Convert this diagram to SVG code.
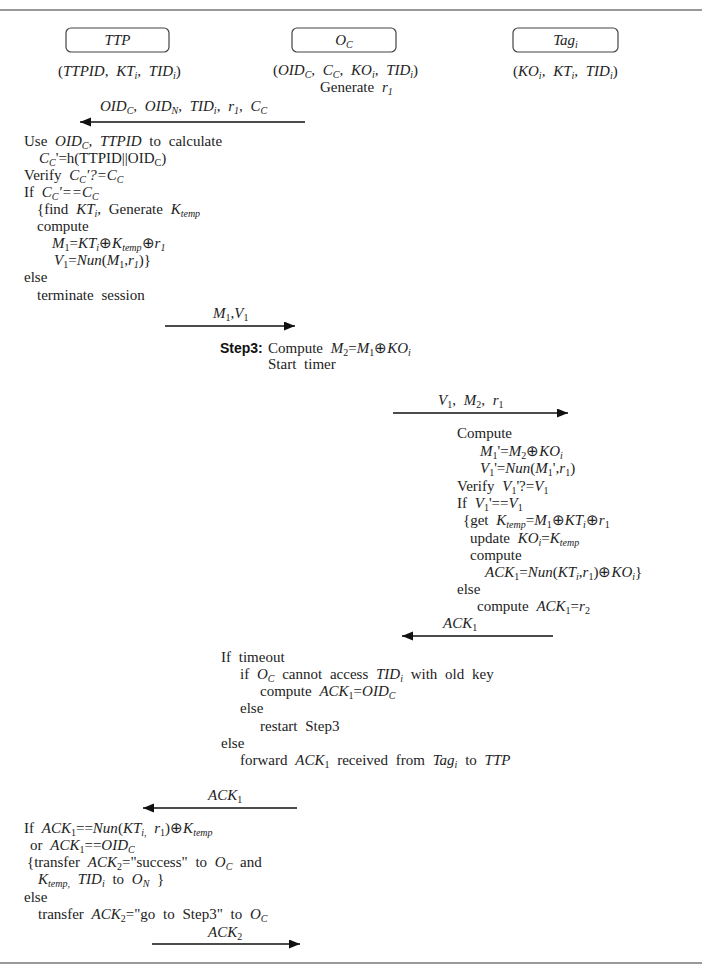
<svg xmlns="http://www.w3.org/2000/svg" width="702" height="971" viewBox="0 0 702 971">
<defs>
<marker id="ah" markerUnits="userSpaceOnUse" markerWidth="12" markerHeight="10" refX="11" refY="4.5" orient="auto">
<path d="M0,0 L11,4.5 L0,9 z" fill="#111"/>
</marker>
<style>
text{font-family:"Liberation Serif","Times New Roman",serif;font-size:15px;fill:#222;word-spacing:4px}
.i{font-style:italic}
.s{font-size:10px;baseline-shift:-2.5px}
.c{text-anchor:middle}
.b{font-family:"Liberation Sans",Arial,sans-serif;font-weight:bold;font-size:14px;fill:#111}
.box{fill:#fff;stroke:#444;stroke-width:1.2}
.rule{stroke:#999;stroke-width:2}
.ln{stroke:#111;stroke-width:1.3;fill:none;marker-end:url(#ah)}
</style>
</defs>
<rect width="702" height="971" fill="#fff"/>
<line class="rule" x1="0" y1="10" x2="702" y2="10"/>
<line class="rule" x1="0" y1="963" x2="702" y2="963"/>

<g id="node-ttp">
<rect class="box" x="66" y="28" width="103" height="24" rx="5"/>
<text class="c i" x="117.5" y="45">TTP</text>
<text x="58" y="76">(<tspan class="i">TTPID, KT</tspan><tspan class="i s">i</tspan><tspan class="i">, TID</tspan><tspan class="i s">i</tspan>)</text>
</g>
<g id="node-oc">
<rect class="box" x="292" y="28" width="104" height="24" rx="5"/>
<text class="c" x="344" y="45"><tspan class="i">O</tspan><tspan class="i s">C</tspan></text>
<text x="273" y="75">(<tspan class="i">OID</tspan><tspan class="i s">C</tspan><tspan class="i">, C</tspan><tspan class="i s">C</tspan><tspan class="i">, KO</tspan><tspan class="i s">i</tspan><tspan class="i">, TID</tspan><tspan class="i s">i</tspan>)</text>
<text x="320" y="92">Generate <tspan class="i">r</tspan><tspan class="i s">1</tspan></text>
</g>
<g id="node-tag">
<rect class="box" x="513" y="28" width="105" height="24" rx="5"/>
<text class="c" x="565.5" y="45"><tspan class="i">Tag</tspan><tspan class="i s">i</tspan></text>
<text x="513" y="76">(<tspan class="i">KO</tspan><tspan class="i s">i</tspan><tspan class="i">, KT</tspan><tspan class="i s">i</tspan><tspan class="i">, TID</tspan><tspan class="i s">i</tspan>)</text>
</g>

<g id="connectors">
<line class="ln" x1="305" y1="122" x2="80" y2="122"/>
<line class="ln" x1="165" y1="326" x2="295" y2="326"/>
<line class="ln" x1="393" y1="413" x2="568" y2="413"/>
<line class="ln" x1="553" y1="636" x2="402" y2="636"/>
<line class="ln" x1="297" y1="808" x2="143" y2="808"/>
<line class="ln" x1="152" y1="944" x2="300" y2="944"/>
</g>

<g id="connector-labels">
<text x="100" y="111"><tspan class="i">OID</tspan><tspan class="i s">C</tspan><tspan class="i">, OID</tspan><tspan class="i s">N</tspan><tspan class="i">, TID</tspan><tspan class="i s">i</tspan><tspan class="i">, r</tspan><tspan class="i s">1</tspan><tspan class="i">, C</tspan><tspan class="i s">C</tspan></text>
<text x="213" y="318"><tspan class="i">M</tspan><tspan class="s">1</tspan>,<tspan class="i">V</tspan><tspan class="s">1</tspan></text>
<text x="438" y="405"><tspan class="i">V</tspan><tspan class="s">1</tspan>, <tspan class="i">M</tspan><tspan class="s">2</tspan>, <tspan class="i">r</tspan><tspan class="s">1</tspan></text>
<text x="443" y="628"><tspan class="i">ACK</tspan><tspan class="s">1</tspan></text>
<text x="208" y="800"><tspan class="i">ACK</tspan><tspan class="s">1</tspan></text>
<text x="208" y="937"><tspan class="i">ACK</tspan><tspan class="s">2</tspan></text>
</g>

<g id="ttp-verify">
<text x="24" y="146">Use <tspan class="i">OID</tspan><tspan class="i s">C</tspan><tspan class="i">, TTPID</tspan> to calculate</text>
<text x="39" y="163"><tspan class="i">C</tspan><tspan class="i s">C</tspan>'=h(TTPID||OID<tspan class="s">C</tspan>)</text>
<text x="24" y="180">Verify <tspan class="i">C</tspan><tspan class="i s">C</tspan><tspan class="i">'?=C</tspan><tspan class="i s">C</tspan></text>
<text x="24" y="197">If <tspan class="i">C</tspan><tspan class="i s">C</tspan><tspan class="i">'==C</tspan><tspan class="i s">C</tspan></text>
<text x="37" y="214">{find <tspan class="i">KT</tspan><tspan class="i s">i</tspan>, Generate <tspan class="i">K</tspan><tspan class="i s">temp</tspan></text>
<text x="37" y="231">compute</text>
<text x="52" y="248"><tspan class="i">M</tspan><tspan class="s">1</tspan>=<tspan class="i">KT</tspan><tspan class="i s">i</tspan>⊕<tspan class="i">K</tspan><tspan class="i s">temp</tspan>⊕<tspan class="i">r</tspan><tspan class="i s">1</tspan></text>
<text x="54" y="265"><tspan class="i">V</tspan><tspan class="s">1</tspan>=<tspan class="i">Nun</tspan>(<tspan class="i">M</tspan><tspan class="s">1</tspan>,<tspan class="i">r</tspan><tspan class="i s">1</tspan>)}</text>
<text x="24" y="282">else</text>
<text x="37" y="300">terminate session</text>
</g>

<g id="oc-step3">
<text class="b" x="220" y="353">Step3:</text>
<text x="268" y="353">Compute <tspan class="i">M</tspan><tspan class="s">2</tspan>=<tspan class="i">M</tspan><tspan class="s">1</tspan>⊕<tspan class="i">KO</tspan><tspan class="i s">i</tspan></text>
<text x="268" y="369">Start timer</text>
</g>

<g id="tag-compute">
<text x="457" y="438">Compute</text>
<text x="480" y="456"><tspan class="i">M</tspan><tspan class="s">1</tspan>'=<tspan class="i">M</tspan><tspan class="s">2</tspan>⊕<tspan class="i">KO</tspan><tspan class="i s">i</tspan></text>
<text x="480" y="473"><tspan class="i">V</tspan><tspan class="s">1</tspan>'=<tspan class="i">Nun</tspan>(<tspan class="i">M</tspan><tspan class="s">1</tspan>',<tspan class="i">r</tspan><tspan class="s">1</tspan>)</text>
<text x="457" y="491">Verify <tspan class="i">V</tspan><tspan class="s">1</tspan>'?=<tspan class="i">V</tspan><tspan class="s">1</tspan></text>
<text x="457" y="508">If <tspan class="i">V</tspan><tspan class="s">1</tspan>'==<tspan class="i">V</tspan><tspan class="s">1</tspan></text>
<text x="463" y="525">{get <tspan class="i">K</tspan><tspan class="i s">temp</tspan>=<tspan class="i">M</tspan><tspan class="s">1</tspan>⊕<tspan class="i">KT</tspan><tspan class="i s">i</tspan>⊕<tspan class="i">r</tspan><tspan class="s">1</tspan></text>
<text x="470" y="543">update <tspan class="i">KO</tspan><tspan class="i s">i</tspan>=<tspan class="i">K</tspan><tspan class="i s">temp</tspan></text>
<text x="470" y="560">compute</text>
<text x="485" y="577"><tspan class="i">ACK</tspan><tspan class="s">1</tspan>=<tspan class="i">Nun</tspan>(<tspan class="i">KT</tspan><tspan class="i s">i</tspan>,<tspan class="i">r</tspan><tspan class="s">1</tspan>)⊕<tspan class="i">KO</tspan><tspan class="i s">i</tspan>}</text>
<text x="457" y="594">else</text>
<text x="477" y="611">compute <tspan class="i">ACK</tspan><tspan class="s">1</tspan>=<tspan class="i">r</tspan><tspan class="s">2</tspan></text>
</g>

<g id="oc-timeout">
<text x="221" y="662">If timeout</text>
<text x="240" y="679">if <tspan class="i">O</tspan><tspan class="i s">C</tspan> cannot access <tspan class="i">TID</tspan><tspan class="i s">i</tspan> with old key</text>
<text x="260" y="696">compute <tspan class="i">ACK</tspan><tspan class="s">1</tspan>=<tspan class="i">OID</tspan><tspan class="i s">C</tspan></text>
<text x="240" y="713">else</text>
<text x="260" y="731">restart Step3</text>
<text x="221" y="748">else</text>
<text x="240" y="765">forward <tspan class="i">ACK</tspan><tspan class="s">1</tspan> received from <tspan class="i">Tag</tspan><tspan class="i s">i</tspan> to <tspan class="i">TTP</tspan></text>
</g>

<g id="ttp-final">
<text x="24" y="833">If <tspan class="i">ACK</tspan><tspan class="s">1</tspan>==<tspan class="i">Nun</tspan>(<tspan class="i">KT</tspan><tspan class="i s">i,</tspan> <tspan class="i">r</tspan><tspan class="s">1</tspan>)⊕<tspan class="i">K</tspan><tspan class="i s">temp</tspan></text>
<text x="30" y="850">or <tspan class="i">ACK</tspan><tspan class="s">1</tspan>==<tspan class="i">OID</tspan><tspan class="i s">C</tspan></text>
<text x="27" y="867">{transfer <tspan class="i">ACK</tspan><tspan class="s">2</tspan>="success" to <tspan class="i">O</tspan><tspan class="i s">C</tspan> and</text>
<text x="38" y="884"><tspan class="i">K</tspan><tspan class="i s">temp,</tspan> <tspan class="i">TID</tspan><tspan class="i s">i</tspan> to <tspan class="i">O</tspan><tspan class="i s">N</tspan> }</text>
<text x="24" y="902">else</text>
<text x="38" y="919">transfer <tspan class="i">ACK</tspan><tspan class="s">2</tspan>="go to Step3" to <tspan class="i">O</tspan><tspan class="i s">C</tspan></text>
</g>
</svg>
